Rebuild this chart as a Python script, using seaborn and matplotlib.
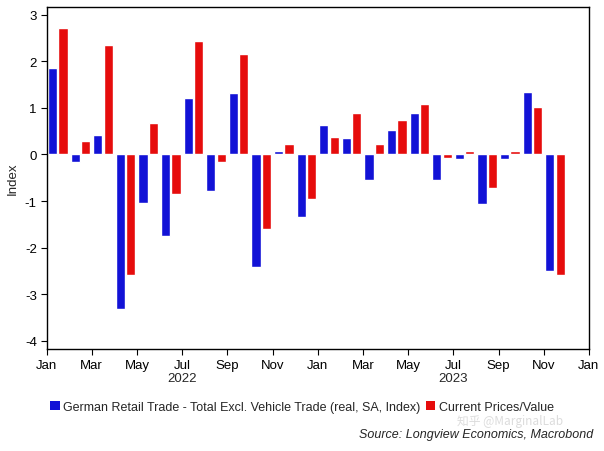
import matplotlib
matplotlib.use("Agg")
import matplotlib.pyplot as plt
import seaborn as sns
import pandas as pd
import numpy as np
from matplotlib.patches import Patch

months = ["2022-01", "2022-02", "2022-03", "2022-04", "2022-05", "2022-06",
          "2022-07", "2022-08", "2022-09", "2022-10", "2022-11", "2022-12",
          "2023-01", "2023-02", "2023-03", "2023-04", "2023-05", "2023-06",
          "2023-07", "2023-08", "2023-09", "2023-10", "2023-11", "2023-12"]
real = [1.86, -0.17, 0.41, -3.32, -1.04, -1.74, 1.22, -0.79, 1.31, -2.42, 0.07, -1.34,
        0.63, 0.35, -0.54, 0.53, 0.89, -0.54, -0.09, -1.07, -0.09, 1.34, -2.49, np.nan]
value = [2.72, 0.29, 2.34, -2.59, 0.68, -0.84, 2.43, -0.16, 2.15, -1.60, 0.22, -0.96,
         0.37, 0.89, 0.22, 0.73, 1.09, -0.07, 0.07, -0.73, 0.07, 1.01, -2.59, np.nan]
series_names = ["German Retail Trade - Total Excl. Vehicle Trade (real, SA, Index)",
                "Current Prices/Value"]
tick_labels = ["Jan", "Mar", "May", "Jul", "Sep", "Nov",
               "Jan", "Mar", "May", "Jul", "Sep", "Nov", "Jan"]
year_labels = ["2022", "2023"]

df = pd.DataFrame({
    "month": months * 2,
    "val": real + value,
    "series": [series_names[0]] * len(months) + [series_names[1]] * len(months),
})

sns.set_theme(style="white")
plt.rcParams['font.family'] = ['Liberation Sans', 'DejaVu Sans']

colors = ["#1212D6", "#E60C0C"]
fig = plt.figure(figsize=(6.04, 4.52), dpi=100)
ax = fig.add_axes([0.077, 0.226, 0.898, 0.757])

sns.barplot(data=df, x="month", y="val", hue="series", order=months,
            hue_order=series_names, palette=colors, width=0.92, gap=0.12,
            saturation=1, ax=ax, legend=False)

ax.set_xlim(-0.5, len(months) - 0.5)
ax.set_ylim(-4.17, 3.17)
ax.set_yticks(range(-4, 4))
ax.set_yticklabels([str(v) for v in range(-4, 4)])
ax.set_xticks(np.arange(-0.5, len(months), 2))
ax.set_xticklabels(tick_labels)
ax.set_xlabel("")
ax.set_ylabel("Index", fontsize=9.5, labelpad=4)

for s in ax.spines.values():
    s.set_color("black")
    s.set_linewidth(1.0)
ax.tick_params(axis="both", which="major", direction="out", length=4, width=0.8,
               color="black", labelsize=9.5, labelcolor="black", pad=3,
               bottom=True, left=True)

ax.text(5.5, -0.068, year_labels[0], transform=ax.get_xaxis_transform(),
        ha="center", va="top", fontsize=9.5)
ax.text(17.5, -0.068, year_labels[1], transform=ax.get_xaxis_transform(),
        ha="center", va="top", fontsize=9.5)

handles = [Patch(facecolor=c, edgecolor="none") for c in colors]
fig.legend(handles, series_names, loc="center", bbox_to_anchor=(0.5, 0.097),
           ncol=2, frameon=False, fontsize=9, handlelength=0.75, handleheight=0.75,
           handletextpad=0.3, columnspacing=0.4, borderaxespad=0)

fig.text(0.982, 0.037, "Source: Longview Economics, Macrobond", ha="right", va="center",
         fontsize=9, style="italic")
fig.text(0.845, 0.068, "知乎 @MarginalLab", ha="center", va="center", fontsize=8.5,
         color="#dcdcdc", family=['Noto Sans CJK SC', 'DejaVu Sans'], zorder=0)

fig.savefig("out.png", dpi=100, facecolor="white")
